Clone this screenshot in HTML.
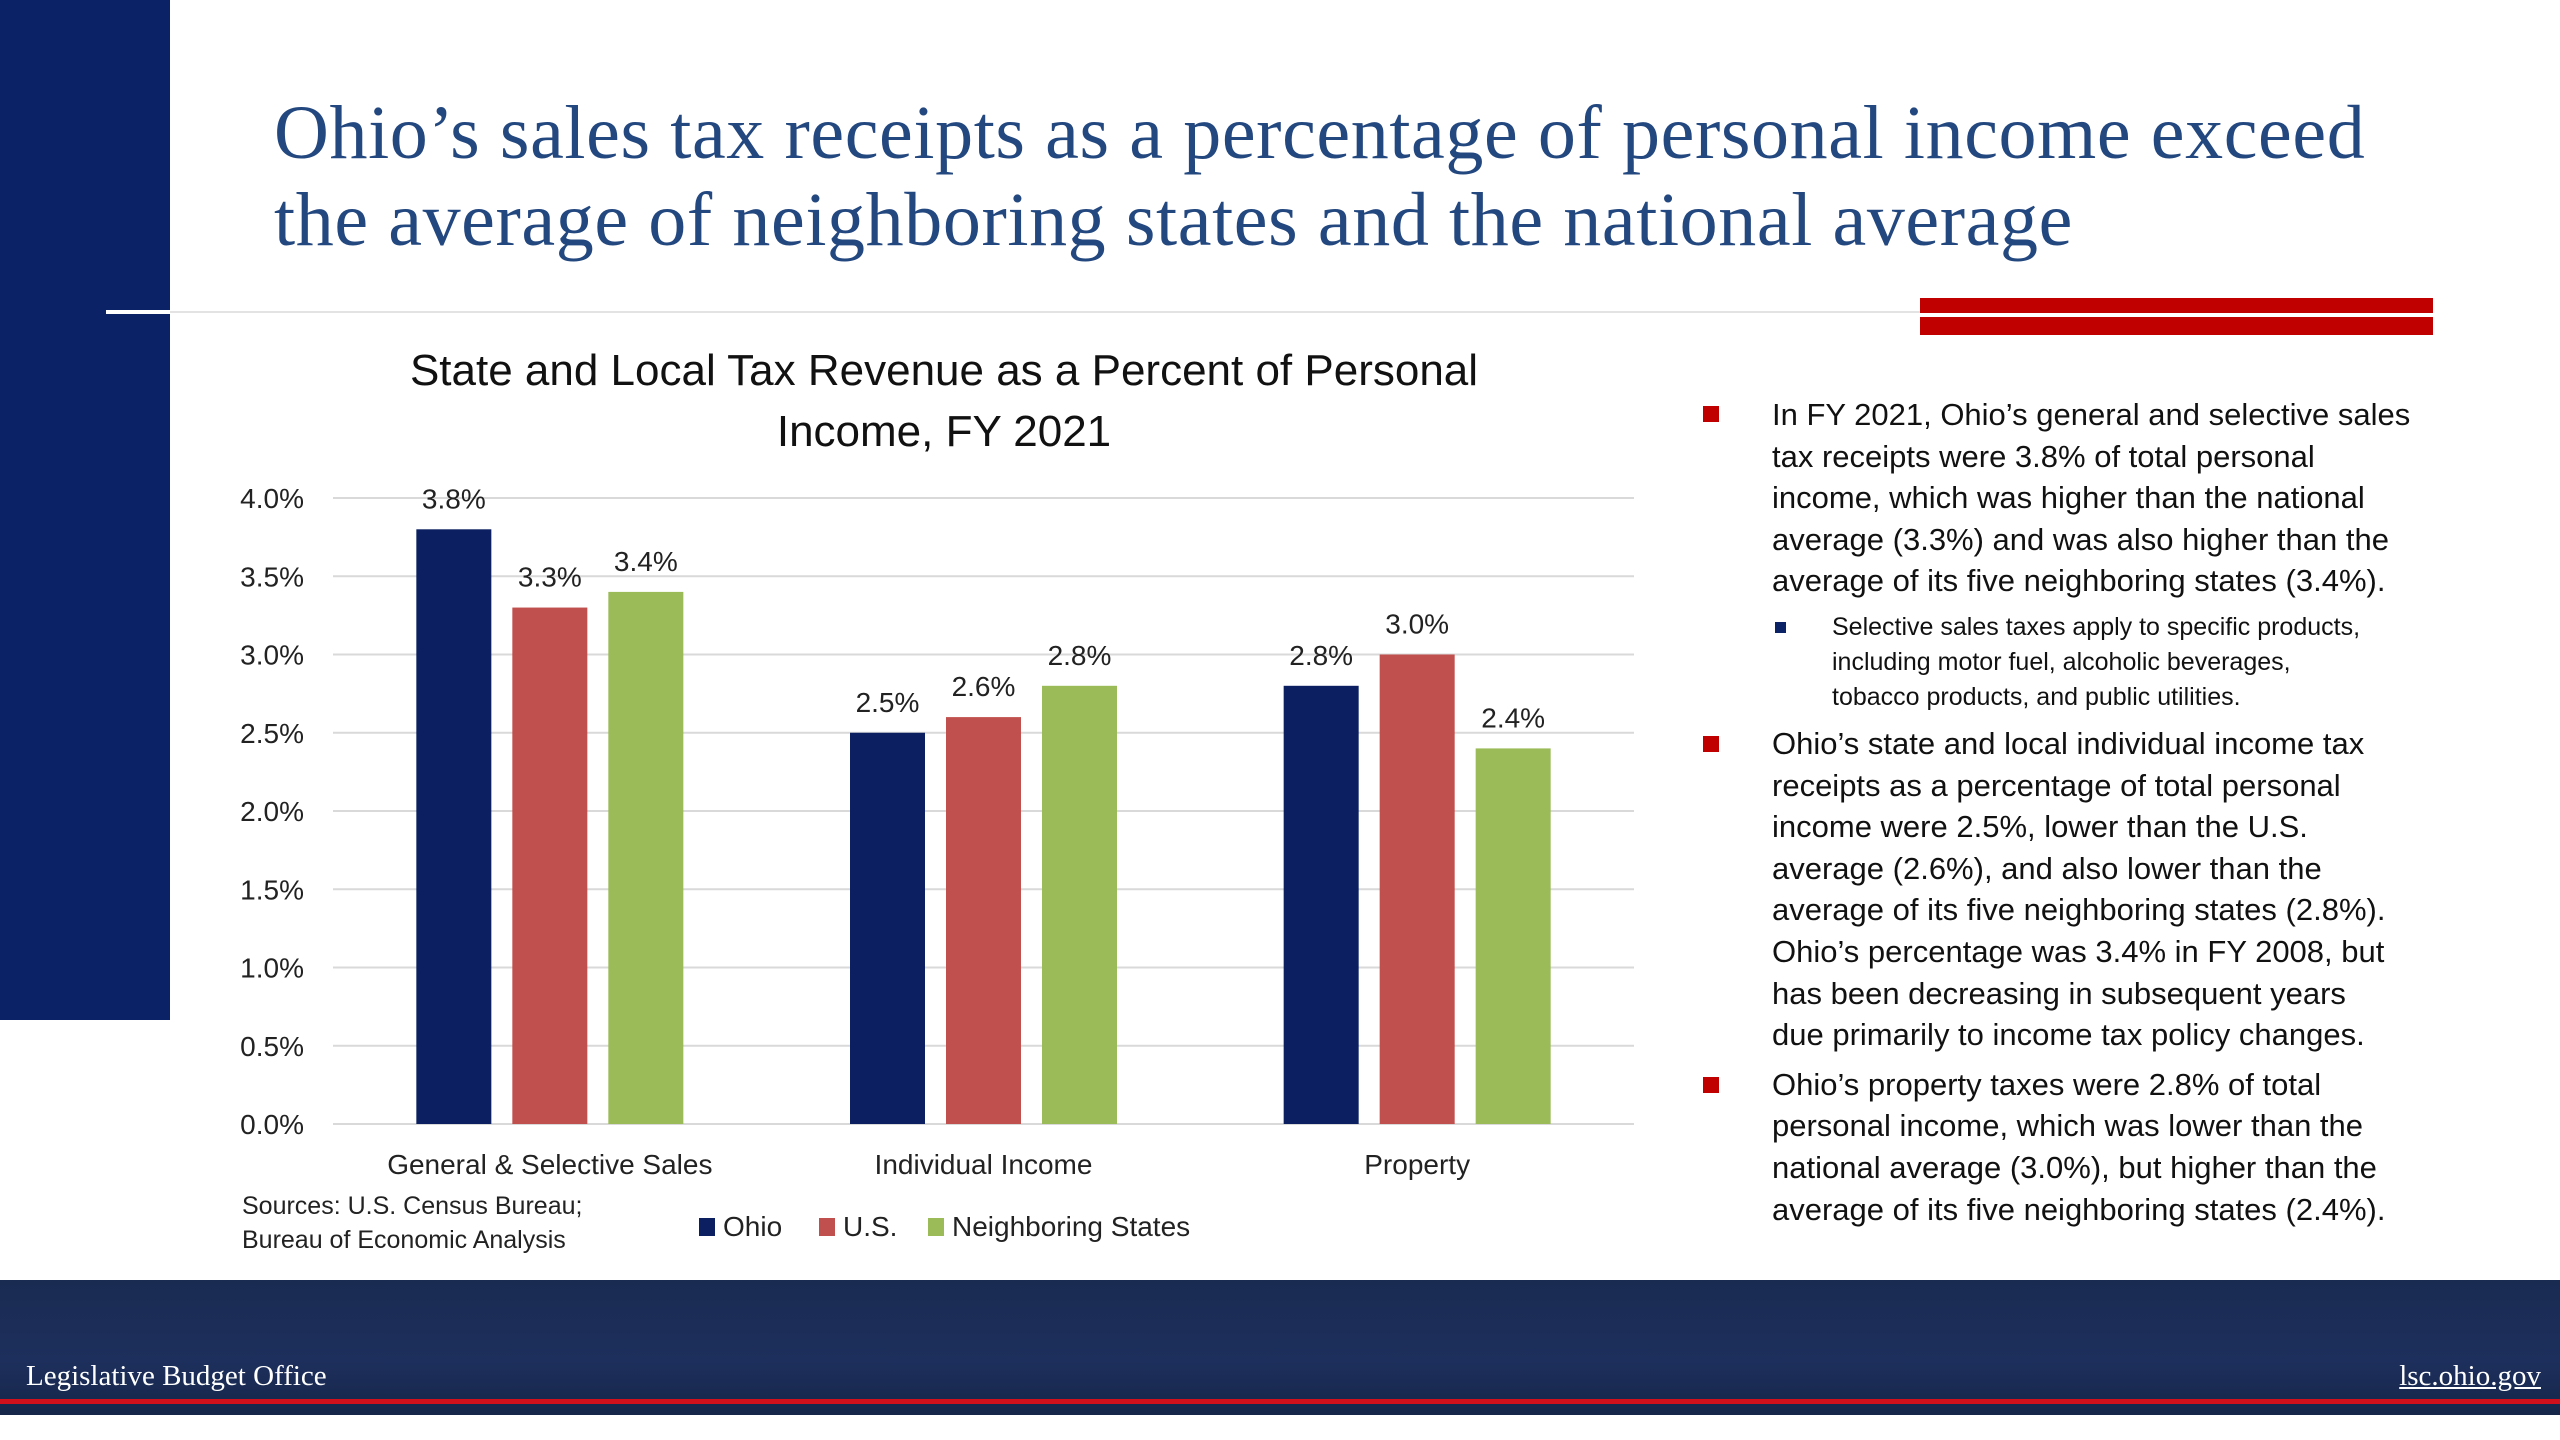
<!DOCTYPE html>
<html><head><meta charset="utf-8">
<style>
html,body{margin:0;padding:0;}
body{width:2560px;height:1440px;position:relative;background:#fff;overflow:hidden;font-family:"Liberation Sans",sans-serif;}
.abs{position:absolute;}
.title{left:274px;top:90px;font-family:"Liberation Serif",serif;font-size:76px;letter-spacing:0.6px;color:#23477f;line-height:87px;white-space:nowrap;}
.rt{font-family:"Liberation Sans Narrow","Liberation Sans",sans-serif;color:#111;white-space:nowrap;}
.rt div{height:41.6px;line-height:41.6px;font-size:31px;}
.rt .sub div{height:35px;line-height:35px;font-size:25px;}
.bul{position:absolute;width:16px;height:16px;background:#c00000;}
</style></head><body>
<div class="abs" style="left:0;top:0;width:170px;height:1020px;background:#0b2266;"></div>
<div class="abs" style="left:170px;top:311px;width:1750px;height:2px;background:#e3e3e3;"></div>
<div class="abs" style="left:106px;top:310px;width:64px;height:4px;background:#fff;"></div>
<div class="abs" style="left:1920px;top:298px;width:513px;height:37px;background:#c00000;"></div>
<div class="abs" style="left:1920px;top:313px;width:513px;height:4px;background:#fff;"></div>
<div class="abs title">Ohio’s sales tax receipts as a percentage of personal income exceed<br>the average of neighboring states and the national average</div>

<svg class="abs" style="left:0;top:0" width="1700" height="1280" id="chart"></svg>

<div class="abs rt" style="left:1772px;top:394px;">
 <div>In FY 2021, Ohio’s general and selective sales</div>
 <div>tax receipts were 3.8% of total personal</div>
 <div>income, which was higher than the national</div>
 <div>average (3.3%) and was also higher than the</div>
 <div>average of its five neighboring states (3.4%).</div>
 <div class="sub" style="margin-left:60px;margin-top:8px;height:auto;line-height:normal;">
  <div>Selective sales taxes apply to specific products,</div>
  <div>including motor fuel, alcoholic beverages,</div>
  <div>tobacco products, and public utilities.</div>
 </div>
 <div style="margin-top:8px">Ohio’s state and local individual income tax</div>
 <div>receipts as a percentage of total personal</div>
 <div>income were 2.5%, lower than the U.S.</div>
 <div>average (2.6%), and also lower than the</div>
 <div>average of its five neighboring states (2.8%).</div>
 <div>Ohio’s percentage was 3.4% in FY 2008, but</div>
 <div>has been decreasing in subsequent years</div>
 <div>due primarily to income tax policy changes.</div>
 <div style="margin-top:8px">Ohio’s property taxes were 2.8% of total</div>
 <div>personal income, which was lower than the</div>
 <div>national average (3.0%), but higher than the</div>
 <div>average of its five neighboring states (2.4%).</div>
</div>
<div class="bul" style="left:1703px;top:406px;"></div>
<div class="abs" style="left:1775px;top:622px;width:11px;height:11px;background:#0b2266;"></div>
<div class="bul" style="left:1703px;top:736px;"></div>
<div class="bul" style="left:1703px;top:1077px;"></div>

<div class="abs" style="left:0;top:1280px;width:2560px;height:135px;background:linear-gradient(180deg,#1a2b52,#1d2f5c 60%,#16264a);"></div>
<div class="abs" style="left:0;top:1399px;width:2560px;height:5px;background:#d0101a;"></div>
<div class="abs" style="left:26px;top:1360px;font-family:'Liberation Serif',serif;font-size:29px;color:#fff;">Legislative Budget Office</div>
<div class="abs" style="right:19px;top:1360px;font-family:'Liberation Serif',serif;font-size:29px;color:#fff;text-decoration:underline;">lsc.ohio.gov</div>

<script>
const categories = ["General & Selective Sales","Individual Income","Property"];
const seriesNames = ["Ohio","U.S.","Neighboring States"];
const ohioValues = [3.8, 2.5, 2.8];
const usValues = [3.3, 2.6, 3.0];
const neighborValues = [3.4, 2.8, 2.4];
const yTicks = [0,0.5,1.0,1.5,2.0,2.5,3.0,3.5,4.0];
const colors = ["#0b1f61","#c0504d","#9bbb59"];

const svg = document.getElementById('chart');
const NS = "http://www.w3.org/2000/svg";
const X0=333, X1=1634, Y0=1124, YMAX=4.0, PH=626;
const y = v => Y0 - v/YMAX*PH;
const groupW = (X1-X0)/categories.length;
const barW = 75, gap = 21;
const xBar = (ci,si) => X0 + groupW*ci + groupW/2 - (3*barW+2*gap)/2 + si*(barW+gap);
function mk(tag, attrs, text){const e=document.createElementNS(NS,tag);for(const k in attrs)e.setAttribute(k,attrs[k]);if(text!==undefined)e.textContent=text;svg.appendChild(e);return e;}
const F = '"Liberation Sans Narrow","Liberation Sans",sans-serif';

let t=mk('text',{x:944,y:385,'text-anchor':'middle','font-size':44,'font-family':F,fill:'#111'},'State and Local Tax Revenue as a Percent of Personal');


t=mk('text',{x:944,y:446,'text-anchor':'middle','font-size':44,'font-family':F,fill:'#111'},'Income, FY 2021');



yTicks.forEach(v=>{
  const g=mk('line',{x1:X0,x2:X1,y1:y(v),y2:y(v),stroke:'#d9d9d9','stroke-width':2});
  
  
  const l=mk('text',{x:304,y:y(v)+10,'text-anchor':'end','font-size':28,'font-family':F,fill:'#222'},v.toFixed(1)+'%');
  
  
});
const series=[ohioValues,usValues,neighborValues];
series.forEach((vals,si)=>{
  vals.forEach((v,ci)=>{
    const r=mk('rect',{x:xBar(ci,si),y:y(v),width:barW,height:Y0-y(v),fill:colors[si]});
    
    
    const l=mk('text',{x:xBar(ci,si)+barW/2,y:y(v)-21,'text-anchor':'middle','font-size':28,'font-family':F,fill:'#222'},v.toFixed(1)+'%');
    
    
  });
});
categories.forEach((c,ci)=>{
  const l=mk('text',{x:X0+groupW*ci+groupW/2,y:1174,'text-anchor':'middle','font-size':28,'font-family':F,fill:'#222'},c);
  
  
});
t=mk('text',{x:242,y:1214,'font-size':25,'font-family':F,fill:'#222'},'Sources: U.S. Census Bureau;');


t=mk('text',{x:242,y:1248,'font-size':25,'font-family':F,fill:'#222'},'Bureau of Economic Analysis');


const legX=[699,819,928];
seriesNames.forEach((n,si)=>{
  const r=mk('rect',{x:legX[si],y:1218,width:16,height:18,fill:colors[si]});
  
  
  const l=mk('text',{x:legX[si]+24,y:1236,'font-size':28,'font-family':F,fill:'#222'},n);
  
  
});
</script>
</body></html>
